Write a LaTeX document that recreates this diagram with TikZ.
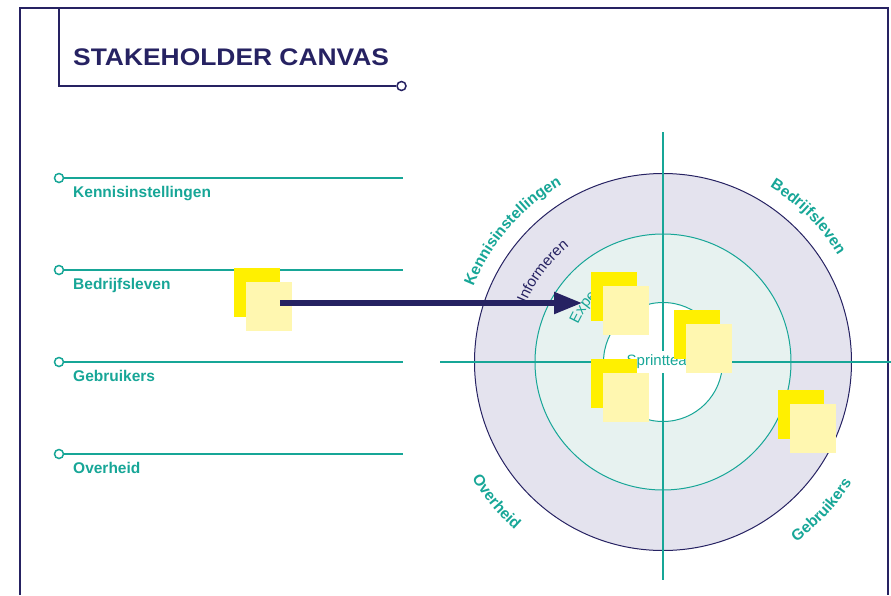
\documentclass[tikz,border=0pt]{standalone}
\usepackage{fontspec}
\setmainfont{Liberation Sans}
\usetikzlibrary{arrows.meta,decorations.text}

\definecolor{canvasnavy}{HTML}{262262}
\definecolor{canvasteal}{HTML}{17A697}
\definecolor{ringlilac}{HTML}{E4E3EE}
\definecolor{ringmint}{HTML}{E7F2F0}
\definecolor{notedark}{HTML}{FFF000}
\definecolor{notelight}{HTML}{FFF7B0}

\newcommand\ringbold{\fontsize{15.5}{18}\selectfont\bfseries}
\newcommand\ringthin{\fontsize{15}{18}\selectfont}

\tikzset{
  frameline/.style={canvasnavy, line width=1.5pt},
  rowline/.style={canvasteal, line width=2pt},
  rowdot/.style={circle, draw=canvasteal, fill=white, line width=1.5pt, minimum size=9pt, inner sep=0pt},
  rowlabel/.style={anchor=base west, inner sep=0pt, text=canvasteal, font=\ringbold},
  axis/.style={canvasteal, line width=2pt},
  backnote/.style={fill=notedark, minimum width=46pt, minimum height=49pt, inner sep=0pt, anchor=north west},
  frontnote/.style={fill=notelight, minimum width=46pt, minimum height=49pt, inner sep=0pt, anchor=north west},
  flow/.style={canvasnavy, line width=5.3pt, -{Triangle[length=28pt,width=21pt]}},
}

\begin{document}
\begin{tikzpicture}[x=1pt, y=1pt]
  \useasboundingbox (0,0) rectangle (891,-595);

  % ---- page frame and title -----------------------
  \draw[frameline] (20,-595) -- (20,-8) -- (888,-8) -- (888,-595);
  \node[circle, draw=canvasnavy, fill=white, line width=1.5pt, minimum size=9pt, inner sep=0pt] (titledot) at (401.5,-86) {};
  \draw[frameline] (59,-8) -- (59,-86) -- (titledot.west);
  \node[anchor=base west, inner sep=0pt, text=canvasnavy, font=\fontsize{24}{28}\selectfont\bfseries] (title) at (73,-65)
    {\scalebox{1.1}[1]{STAKEHOLDER CANVAS}};

  % ---- stakeholder rows on the left ---------------
  \foreach \lbl/\y in {Kennisinstellingen/178, Bedrijfsleven/270, Gebruikers/362, Overheid/454}{
    \node[rowdot] (dot-\y) at (59,-\y) {};
    \coordinate (end-\y) at (403,-\y);
    \draw[rowline] (dot-\y) -- (end-\y);
    \node[rowlabel] (lbl-\y) at (73,-\y-19.5) {\lbl};
  }

  % ---- rings ---------------------------------------
  \coordinate (hub) at (663,-362);
  \fill[ringlilac] (hub) circle[radius=188.5];
  \draw[canvasnavy, line width=1pt] (hub) circle[radius=188.5];
  \fill[ringmint] (hub) circle[radius=128];
  \draw[canvasteal, line width=1pt] (hub) circle[radius=128];
  \fill[white] (hub) circle[radius=59.5];
  \draw[canvasteal, line width=1pt] (hub) circle[radius=59.5];

  % ---- axes ----------------------------------------
  \draw[axis] (663,-132) -- (663,-580);
  \draw[axis] (440,-362) -- (891,-362);

  % ---- labels round the rings ---------------------
  \path[decorate, decoration={text along path, text align=center, text color=canvasteal,
      text={|\ringbold|Kennisinstellingen}}] (hub) ++(160:204) arc[start angle=160, end angle=118, radius=204pt];
  \path[decorate, decoration={text along path, text align=center, text color=canvasteal,
      text={|\ringbold|Bedrijfsleven}}] (hub) ++(66:205) arc[start angle=66, end angle=24, radius=205pt];
  \path[decorate, decoration={text along path, text align=center, text color=canvasteal,
      text={|\ringbold|Overheid}}] (hub) ++(200:224) arc[start angle=200, end angle=240, radius=224pt];
  \path[decorate, decoration={text along path, text align=center, text color=canvasteal,
      text={|\ringbold|Gebruikers}}] (hub) ++(-63:224) arc[start angle=-63, end angle=-23, radius=224pt];
  \path[decorate, decoration={text along path, text align=center, text color=canvasnavy,
      text={|\ringthin|Informeren}}] (hub) ++(165:149) arc[start angle=165, end angle=121, radius=149pt];
  \path[decorate, decoration={text along path, text align=left, text color=canvasteal,
      text={|\ringthin|Experts}}] (hub) ++(156:93) arc[start angle=156, end angle=60, radius=93pt];
  \node[fill=white, text=canvasteal, inner sep=4pt, font=\ringthin] (core) at (hub) {Sprintteam};

  % ---- sticky notes --------------------------------
  \foreach \n/\x/\y in {1/234/268, 2/591/272, 3/674/310, 4/591/359, 5/778/390}{
    \node[backnote] (back\n) at (\x,-\y) {};
    \node[frontnote] (note\n) at ([shift={(12,-14)}]back\n.north west) {};
  }

  % ---- arrow from note to ring ---------------------
  \coordinate (tail) at (280,-303);
  \coordinate (tip) at (582,-303);
  \draw[flow] (tail) -- (tip);
\end{tikzpicture}
\end{document}
